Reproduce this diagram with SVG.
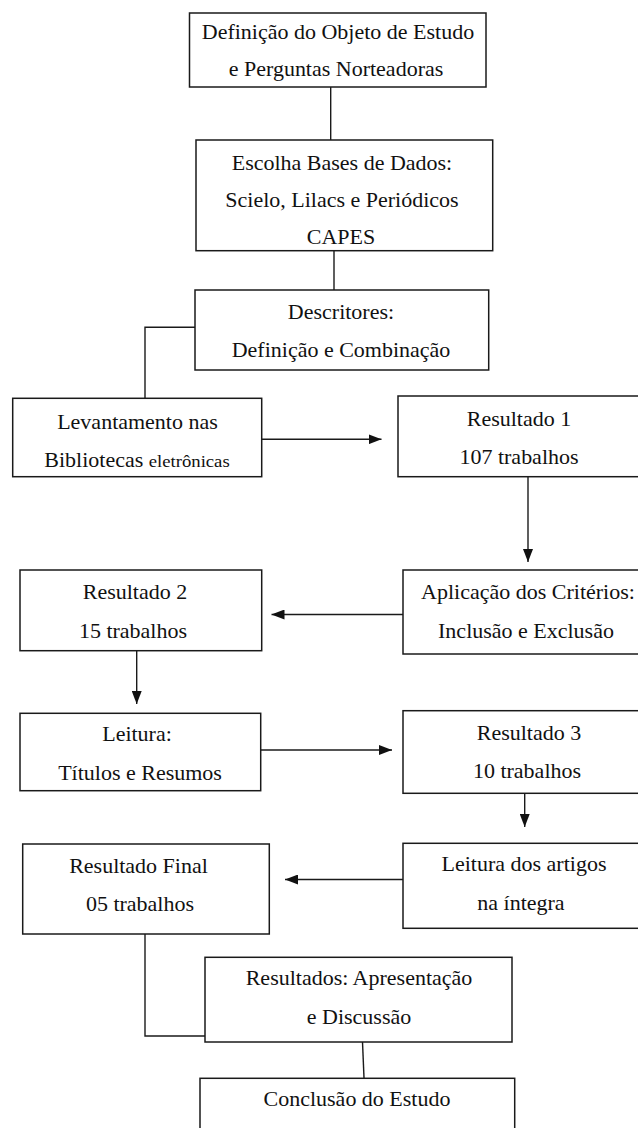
<svg xmlns="http://www.w3.org/2000/svg" width="638" height="1128" viewBox="0 0 638 1128">
<defs>
<style>
.box{fill:#fff;stroke:#1a1a1a;stroke-width:1.5}
.ln{fill:none;stroke:#1a1a1a;stroke-width:1.4}
.ar{fill:none;stroke:#1a1a1a;stroke-width:1.4;marker-end:url(#ah)}
text{font-family:"Liberation Serif","Times New Roman",serif;font-size:20px;fill:#111;text-anchor:middle;transform-box:fill-box;transform-origin:center;transform:scaleX(1.1)}
.sm{font-size:17px}
</style>
<marker id="ah" markerUnits="userSpaceOnUse" markerWidth="13" markerHeight="10" refX="13" refY="5" orient="auto">
<path d="M0,0 L13,5 L0,10 z" fill="#111"/>
</marker>
</defs>
<rect width="638" height="1128" fill="#fff"/>
<g id="connectors">
<path class="ln" d="M330.7,87 V140"/>
<path class="ln" d="M334,251 V290"/>
<path class="ln" d="M195,327.3 H145 V398"/>
<path class="ar" d="M262,439.3 H381.5"/>
<path class="ar" d="M528,477 V562"/>
<path class="ar" d="M403,614.5 H271.5"/>
<path class="ar" d="M136.7,651 V704"/>
<path class="ar" d="M261,750 H392"/>
<path class="ar" d="M524.7,793.5 V827"/>
<path class="ar" d="M403,879.5 H285"/>
<path class="ln" d="M145,934 V1036 H205"/>
<path class="ln" d="M362.5,1042 L364,1078"/>
</g>
<g id="n1"><rect class="box" x="189.5" y="13" width="296.5" height="74"/>
<text x="338" y="39">Definição do Objeto de Estudo</text>
<text x="336" y="76">e Perguntas Norteadoras</text></g>
<g id="n2"><rect class="box" x="196" y="140" width="296.7" height="110.7"/>
<text x="342" y="170">Escolha Bases de Dados:</text>
<text x="342" y="207">Scielo, Lilacs e Periódicos</text>
<text x="341" y="244">CAPES</text></g>
<g id="n3"><rect class="box" x="195" y="290" width="293.7" height="80"/>
<text x="341" y="319">Descritores:</text>
<text x="341" y="357.5">Definição e Combinação</text></g>
<g id="n4"><rect class="box" x="12.7" y="398.3" width="249" height="78.4"/>
<text x="137.5" y="429">Levantamento nas</text>
<text x="137" y="467">Bibliotecas <tspan class="sm">eletrônicas</tspan></text></g>
<g id="n5"><rect class="box" x="398" y="396" width="242" height="80.7"/>
<text x="519" y="425.5">Resultado 1</text>
<text x="519" y="464">107 trabalhos</text></g>
<g id="n6"><rect class="box" x="403" y="570" width="250" height="84"/>
<text x="528" y="599.5">Aplicação dos Critérios:</text>
<text x="526" y="638.5">Inclusão e Exclusão</text></g>
<g id="n7"><rect class="box" x="20" y="570" width="241.7" height="80.7"/>
<text x="135" y="599.5">Resultado 2</text>
<text x="133" y="638.5">15 trabalhos</text></g>
<g id="n8"><rect class="box" x="20" y="713.3" width="240.7" height="77.4"/>
<text x="137" y="741.5">Leitura:</text>
<text x="140" y="780.5">Títulos e Resumos</text></g>
<g id="n9"><rect class="box" x="403" y="710.7" width="252" height="82.6"/>
<text x="529" y="740">Resultado 3</text>
<text x="527" y="778.5">10 trabalhos</text></g>
<g id="n10"><rect class="box" x="403" y="843.3" width="242" height="85"/>
<text x="524" y="871.5">Leitura dos artigos</text>
<text x="521" y="910.5">na íntegra</text></g>
<g id="n11"><rect class="box" x="22.7" y="844" width="246.6" height="90"/>
<text x="138.5" y="873.5">Resultado Final</text>
<text x="140" y="911.5">05 trabalhos</text></g>
<g id="n12"><rect class="box" x="205" y="957.3" width="307" height="84.7"/>
<text x="359" y="985.5">Resultados: Apresentação</text>
<text x="359" y="1024">e Discussão</text></g>
<g id="n13"><rect class="box" x="200" y="1078.3" width="314.7" height="60"/>
<text x="357" y="1106.5">Conclusão do Estudo</text></g>
</svg>
